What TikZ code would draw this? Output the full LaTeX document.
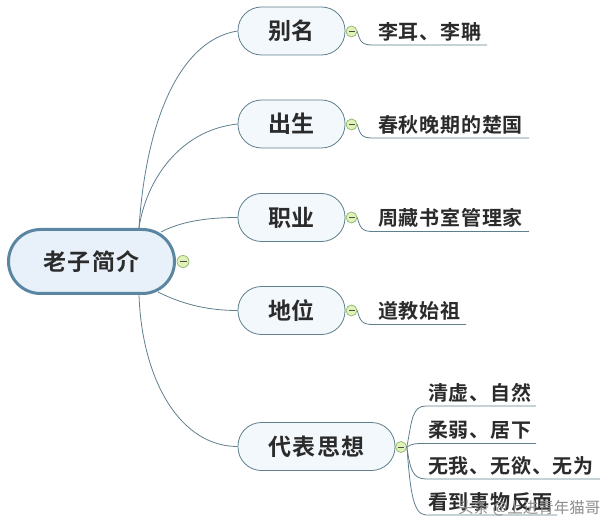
\documentclass[tikz,border=0pt]{standalone}
\usepackage{fontspec}
\setmainfont{Noto Sans CJK SC}[BoldFont={* Bold}]
\newfontfamily\leaffont{Noto Sans CJK SC Bold}[LetterSpace=4]
\newfontfamily\branchfont{Noto Sans CJK SC Bold}[LetterSpace=2]
\newfontfamily\rootfont{Noto Sans CJK SC Bold}[LetterSpace=6]
\usetikzlibrary{calc}
\definecolor{edgec}{HTML}{5F7F8C}
\definecolor{rootb}{HTML}{5A86A2}
\definecolor{rootf}{HTML}{E8F1FA}
\definecolor{branchf}{HTML}{F3F8FC}
\definecolor{txt}{HTML}{2B2B2B}
\definecolor{togf}{HTML}{E0F2B8}
\definecolor{togd}{HTML}{8DB56A}
\tikzset{
  rootnode/.style={draw=rootb,line width=3pt,fill=rootf,rounded corners=32pt,text=txt,font=\fontsize{23}{25}\rootfont,minimum width=166pt,minimum height=64pt,inner sep=0pt},
  branchnode/.style={draw=edgec,line width=.8pt,fill=branchf,rounded corners=23.5pt,text=txt,font=\fontsize{23}{25}\branchfont,minimum height=48pt,inner sep=0pt},
  widebranch/.style={branchnode,font=\fontsize{23}{25}\rootfont},
  leaftext/.style={text=txt,font=\fontsize{20}{22}\leaffont,inner sep=0pt,anchor=west},
  conn/.style={draw=edgec,line width=.8pt},
  toggle/.style={circle,draw=togd,fill=togf,line width=.7pt,minimum size=11pt,inner sep=0pt,
    path picture={\draw[line width=.7pt,black!70] ($(path picture bounding box.west)+(2.5pt,0)$) -- ($(path picture bounding box.east)+(-2.5pt,0)$);}},
  wmark/.style={text=gray!90,font=\fontsize{15.5}{18}\selectfont,inner sep=0pt}
}
\begin{document}
\begin{tikzpicture}[x=1pt,y=-1pt]
\useasboundingbox (0,0) rectangle (613,529);
\coordinate (rt1) at (139,228);
\coordinate (rb1) at (139,295);
\coordinate (rr1) at (161,232);
\coordinate (rr2) at (158,292);
\node[branchnode,minimum width=107pt] (b1) at (291.5,31) {别名};
\node[branchnode,minimum width=107pt] (b2) at (291.5,124) {出生};
\node[branchnode,minimum width=107pt] (b3) at (291.5,217.5) {职业};
\node[branchnode,minimum width=107pt] (b4) at (291.5,310.5) {地位};
\node[widebranch,minimum width=157pt] (b5) at (316.5,446.5) {代表思想};
\draw[conn] (rt1) .. controls (146,120) and (180,40) .. (b1.west);
\draw[conn] (rt1) .. controls (146,180) and (180,130) .. (b2.west);
\draw[conn] (rr1) .. controls (180,222) and (205,217.5) .. (b3.west);
\draw[conn] (rr2) .. controls (180,303) and (205,310.5) .. (b4.west);
\draw[conn] (rb1) .. controls (142,380) and (180,446.5) .. (b5.west);
\node[rootnode] (root) at (91.5,261.5) {老子简介};
\node[toggle,minimum size=12pt] (t0) at (183,261.5) {};
\node[toggle] (t1) at (351.5,31.5) {};
\node[toggle] (t2) at (351.5,124.5) {};
\node[toggle] (t3) at (351.5,217.5) {};
\node[toggle] (t4) at (351.5,310.5) {};
\node[toggle] (t5) at (401,447) {};
\node[leaftext] (l1) at (378,31.5) {李耳、李聃};
\coordinate (e1) at (487,45);
\node[leaftext] (l2) at (378,124.5) {春秋晚期的楚国};
\coordinate (e2) at (529,138);
\node[leaftext] (l3) at (378,218) {周藏书室管理家};
\coordinate (e3) at (529,231.5);
\node[leaftext] (l4) at (378,311) {道教始祖};
\coordinate (e4) at (466,324.5);
\node[leaftext] (l5) at (428,393) {清虚、自然};
\coordinate (e5) at (536,406);
\node[leaftext] (l6) at (428,430.5) {柔弱、居下};
\coordinate (e6) at (536,443.5);
\node[leaftext] (l7) at (428,466) {无我、无欲、无为};
\coordinate (e7) at (600,479);
\node[leaftext] (l8) at (428,502) {看到事物反面};
\coordinate (e8) at (557,515);
\draw[conn] (t1.east) .. controls (360,42) and (362,45) .. (373,45) -- (e1);
\draw[conn] (t2.east) .. controls (360,135) and (362,138) .. (373,138) -- (e2);
\draw[conn] (t3.east) .. controls (360,228) and (362,231.5) .. (373,231.5) -- (e3);
\draw[conn] (t4.east) .. controls (360,321) and (362,324.5) .. (373,324.5) -- (e4);
\draw[conn] (t5.east) .. controls (412,420) and (412,406) .. (426,406) -- (e5);
\draw[conn] (t5.east) .. controls (412,443.5) and (416,443.5) .. (426,443.5) -- (e6);
\draw[conn] (t5.east) .. controls (410,468) and (412,479) .. (426,479) -- (e7);
\draw[conn] (t5.east) .. controls (410,485) and (412,515) .. (426,515) -- (e8);
\node[wmark,anchor=west] (wm) at (458,508) {头条 @上进青年猫哥};
\end{tikzpicture}
\end{document}
